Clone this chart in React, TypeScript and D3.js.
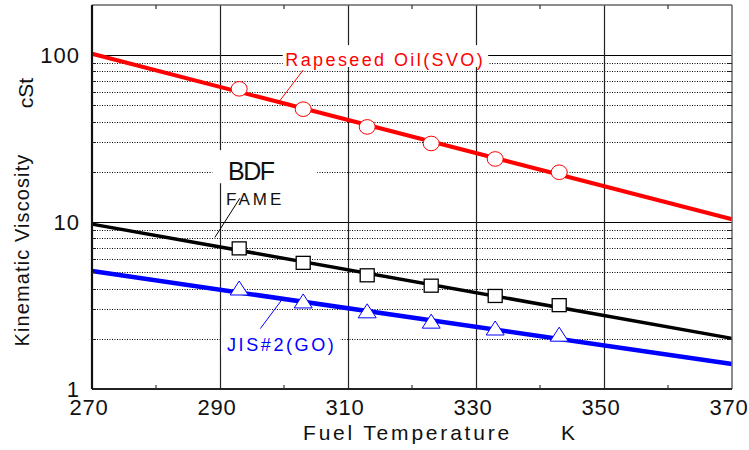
import * as d3 from "d3";

// axis values
const tempTicks = [270, 290, 310, 330, 350, 370];
const tempMinor = [280, 300, 320, 340, 360];
const viscTicks = [1, 10, 100];
const viscMinor = [2, 3, 4, 5, 6, 7, 8, 9, 20, 30, 40, 50, 60, 70, 80, 90];

// measured points (K, cSt)
const measuredTemps = [293, 303, 313, 323, 333, 343];
const svoValues = [62.9, 47.5, 37.2, 29.6, 23.9, 19.9];
const bdfValues = [6.96, 5.7, 4.8, 4.16, 3.61, 3.18];
const jisValues = [4.03, 3.37, 2.94, 2.55, 2.32, 2.13];

// fitted lines, end points
const fitTemps = [270, 370];
const svoFit = [102, 10.4];
const bdfFit = [9.73, 2.01];
const jisFit = [5.09, 1.41];

const W = 749;
const H = 450;
const m = { left: 92, right: 17, top: 5, bottom: 61 };

const FONT = "'Liberation Sans', Arial, sans-serif";

// snap a 1px line onto the pixel grid so the dots stay crisp
const snap = (v: number) => Math.round(v) + 0.5;

export default function App() {
  const x = d3.scaleLinear().domain([270, 370]).range([m.left, W - m.right]);
  const y = d3.scaleLog().domain([1, 200]).range([H - m.bottom, m.top]);
  const x0 = m.left;
  const x1 = W - m.right;
  const y0 = H - m.bottom;
  const y1 = m.top;

  const line = d3
    .line<number>()
    .x((_, i) => x(fitTemps[i]))
    .y((d) => y(d));

  // triangle centred on (cx, cy)
  const tri = (cx: number, cy: number) =>
    `M${cx},${cy - 7}L${cx + 9},${cy + 7}L${cx - 9},${cy + 7}Z`;

  return (
    <div style={{ position: "absolute", left: 0, top: 0 }}>
      <svg width={W} height={H} style={{ display: "block", fontFamily: FONT }}>
        <rect width={W} height={H} fill="#fff" />

        {/* dotted minor grid */}
        {viscMinor.map((v) => (
          <line key={"d" + v} x1={x0} x2={x1} y1={snap(y(v))} y2={snap(y(v))}
            stroke="#000" strokeWidth={1} strokeDasharray="1,1.5" />
        ))}
        {viscTicks.slice(1).map((v) => (
          <line key={"s" + v} x1={x0} x2={x1} y1={snap(y(v))} y2={snap(y(v))} stroke="#000" strokeWidth={1} />
        ))}
        {tempTicks.slice(1, -1).map((t) => (
          <line key={"v" + t} x1={snap(x(t))} x2={snap(x(t))} y1={y1} y2={y0} stroke="#222" strokeWidth={1.2} />
        ))}

        {/* white label backgrounds that cut the grid */}
        <rect x={x(299.8)} y={y(115)} width={x(331.9) - x(299.8)} height={y(85) - y(115)} fill="#fff" />
        <rect x={x(288.8)} y={y(27)} width={x(305.2) - x(288.8)} height={y(17.1) - y(27)} fill="#fff" />
        <rect x={x(290.2)} y={y(2.12)} width={x(308.8) - x(290.2)} height={y(1.55) - y(2.12)} fill="#fff" />

        {/* fitted lines */}
        <path d={line(svoFit) ?? ""} fill="none" stroke="#ff0000" strokeWidth={4} />
        <path d={line(bdfFit) ?? ""} fill="none" stroke="#000" strokeWidth={3.5} />
        <path d={line(jisFit) ?? ""} fill="none" stroke="#0000ff" strokeWidth={4.5} />

        {/* leader lines */}
        <line x1={x(303)} y1={y(81.5)} x2={x(299.2)} y2={y(52.5)} stroke="#ff0000" strokeWidth={1} />
        <line x1={x(293.1)} y1={y(13.9)} x2={x(289.2)} y2={y(8.1)} stroke="#000" strokeWidth={1} />
        <line x1={x(296.3)} y1={y(2.3)} x2={x(299.7)} y2={y(3.44)} stroke="#0000ff" strokeWidth={1} />

        {/* markers */}
        {measuredTemps.map((t, i) => (
          <ellipse key={"c" + t} cx={x(t)} cy={y(svoValues[i])} rx={8} ry={7.3}
            fill="#fff" stroke="#ff0000" strokeWidth={1} />
        ))}
        {measuredTemps.map((t, i) => (
          <rect key={"q" + t} x={x(t) - 7} y={y(bdfValues[i]) - 6.5} width={14} height={13}
            fill="#fff" stroke="#000" strokeWidth={1.3} />
        ))}
        {measuredTemps.map((t, i) => (
          <path key={"t" + t} d={tri(x(t), y(jisValues[i]))} fill="#fff" stroke="#0000ff" strokeWidth={1} />
        ))}

        {/* frame */}
        <line x1={x0} x2={x1} y1={y1} y2={y1} stroke="#666" strokeWidth={1.5} />
        <line x1={x1} x2={x1} y1={y1} y2={y0} stroke="#666" strokeWidth={1.5} />
        <line x1={x0} x2={x1} y1={y0} y2={y0} stroke="#222" strokeWidth={2} />
        <line x1={x0} x2={x0} y1={y1} y2={y0} stroke="#111" strokeWidth={2.2} />

        {/* tick marks */}
        {tempMinor.map((t) => (
          <g key={"mt" + t}>
            <line x1={x(t)} x2={x(t)} y1={y0} y2={y0 - 4} stroke="#333" strokeWidth={1.2} />
            <line x1={x(t)} x2={x(t)} y1={y1} y2={y1 + 4} stroke="#333" strokeWidth={1.2} />
          </g>
        ))}
        {viscMinor.map((v) => (
          <g key={"mv" + v}>
            <line x1={x0} x2={x0 + 4} y1={snap(y(v))} y2={snap(y(v))} stroke="#222" strokeWidth={1} />
            <line x1={x1} x2={x1 - 4} y1={snap(y(v))} y2={snap(y(v))} stroke="#222" strokeWidth={1} />
          </g>
        ))}

        {/* tick labels */}
        {viscTicks.map((v) => (
          <text key={"yl" + v} x={x0 - 12} y={y(v)} dy="0.36em" textAnchor="end"
            fontSize={22} letterSpacing={1} fill="#111">
            {v}
          </text>
        ))}
        {tempTicks.map((t) => (
          <text key={"xl" + t} x={x(t) - 3} y={y0 + 26} textAnchor="middle"
            fontSize={22} letterSpacing={0.8} fill="#111">
            {t}
          </text>
        ))}

        {/* axis titles */}
        <text x={303} y={440} fontSize={21} letterSpacing={2.8} fill="#111">Fuel Temperature</text>
        <text x={561} y={440} fontSize={21} fill="#111">K</text>
        <text transform="translate(29,250) rotate(-90)" textAnchor="middle" fontSize={20}
          letterSpacing={1.1} fill="#111">
          Kinematic Viscosity
        </text>
        <text transform="translate(33,93) rotate(-90)" textAnchor="middle" fontSize={21} fill="#111">
          cSt
        </text>

        {/* series labels */}
        <text x={x(300.2)} y={y(86)} fontSize={18} letterSpacing={2.4} fill="#ff0000">
          Rapeseed Oil(SVO)
        </text>
        <text x={228} y={180} fontSize={25} fill="#111" textLength={47}>BDF</text>
        <text x={226} y={205} fontSize={17} letterSpacing={3} fill="#111">FAME</text>
        <text x={227} y={351} fontSize={18} letterSpacing={2.6} fill="#0000ff">JIS#2(GO)</text>
      </svg>
    </div>
  );
}
